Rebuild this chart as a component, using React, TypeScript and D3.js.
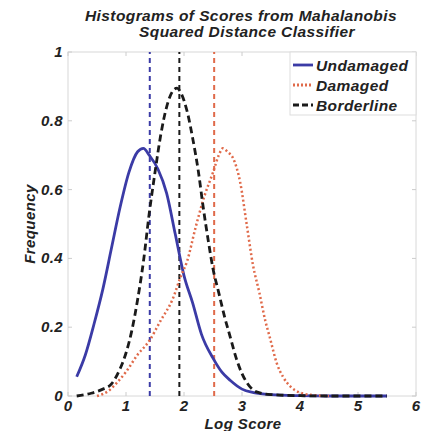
import React from "react";
import * as d3 from "d3";

// Log score grid and frequencies
const undamagedX = [0.15, 0.3, 0.45, 0.6, 0.75, 0.9, 1.05, 1.2, 1.3, 1.4, 1.55, 1.7, 1.85, 2.0, 2.15, 2.3, 2.5, 2.65, 2.8, 3.0, 3.2, 3.5, 4.0, 4.5, 5.0, 5.5];
const undamagedY = [0.056, 0.12, 0.21, 0.31, 0.43, 0.55, 0.65, 0.71, 0.72, 0.7, 0.66, 0.59, 0.47, 0.35, 0.27, 0.18, 0.11, 0.07, 0.045, 0.02, 0.01, 0.004, 0.001, 0, 0, 0];

const damagedX = [0.5, 0.7, 0.85, 1.0, 1.2, 1.4, 1.6, 1.8, 1.95, 2.05, 2.2, 2.35, 2.5, 2.6, 2.67, 2.75, 2.85, 2.97, 3.08, 3.19, 3.3, 3.4, 3.48, 3.6, 3.71, 3.85, 4.0, 4.2, 4.5];
const damagedY = [0.0, 0.015, 0.04, 0.07, 0.12, 0.16, 0.22, 0.28, 0.35, 0.39, 0.49, 0.58, 0.65, 0.7, 0.72, 0.71, 0.69, 0.62, 0.5, 0.38, 0.3, 0.22, 0.17, 0.095, 0.055, 0.025, 0.01, 0.003, 0];

const borderlineX = [0.15, 0.4, 0.6, 0.75, 0.9, 1.0, 1.1, 1.2, 1.3, 1.4, 1.5, 1.6, 1.7, 1.8, 1.88, 1.95, 2.05, 2.16, 2.25, 2.33, 2.42, 2.5, 2.6, 2.7, 2.8, 2.9, 3.0, 3.1, 3.25, 3.5, 4.0, 4.5, 5.0, 5.5];
const borderlineY = [0, 0.008, 0.02, 0.035, 0.08, 0.125, 0.19, 0.28, 0.39, 0.53, 0.65, 0.76, 0.84, 0.885, 0.895, 0.88, 0.83, 0.74, 0.65, 0.55, 0.45, 0.37, 0.3, 0.23, 0.17, 0.11, 0.065, 0.035, 0.012, 0.004, 0.001, 0, 0, 0];

// vertical threshold lines (log score)
const thresholds = [1.41, 1.92, 2.52];

const xTicks = [0, 1, 2, 3, 4, 5, 6];
const yTicks = [0, 0.2, 0.4, 0.6, 0.8, 1];
const legendLabels = ["Undamaged", "Damaged", "Borderline"];

const BLUE = "#3b3ba6";
const RED = "#e06a4a";
const BLACK = "#1a1a1a";

const font = "'Liberation Sans', Arial, sans-serif";

export default function App() {
  const width = 424;
  const height = 431;
  const margin = { top: 52, right: 8, bottom: 35, left: 68 };

  const x = d3.scaleLinear().domain([0, 6]).range([margin.left, width - margin.right]);
  const y = d3.scaleLinear().domain([0, 1]).range([height - margin.bottom, margin.top]);

  const line = d3
    .line<[number, number]>()
    .x((d) => x(d[0]))
    .y((d) => y(d[1]))
    .curve(d3.curveMonotoneX);

  const zip = (xs: number[], ys: number[]) => xs.map((v, i) => [v, ys[i]] as [number, number]);

  const series = [
    { pts: zip(undamagedX, undamagedY), color: BLUE, dash: "none" },
    { pts: zip(damagedX, damagedY), color: RED, dash: "2,2.5" },
    { pts: zip(borderlineX, borderlineY), color: BLACK, dash: "7,4" },
  ];
  const vColors = [BLUE, BLACK, RED];

  const lx = 290;
  const ly = 52;
  const txt = { fontWeight: "bold", fontStyle: "italic", fill: "#222", letterSpacing: 0.4 } as const;

  return (
    <svg
      width={width}
      height={height}
      style={{ position: "absolute", left: 0, top: 0, background: "#fff" }}
      fontFamily={font}
    >
      {/* title */}
      <text x={241} y={21} textAnchor="middle" fontSize={15.5} {...txt}>
        Histograms of Scores from Mahalanobis
      </text>
      <text x={247} y={37} textAnchor="middle" fontSize={15.5} {...txt}>
        Squared Distance Classifier
      </text>

      {/* frame */}
      <rect
        x={x(0)}
        y={y(1)}
        width={x(6) - x(0)}
        height={y(0) - y(1)}
        fill="none"
        stroke="#d8d8d8"
        strokeWidth={1}
      />
      {xTicks.map((t) => (
        <g key={"xt" + t}>
          <line x1={x(t)} x2={x(t)} y1={y(0)} y2={y(0) - 4} stroke="#ccc" />
          <line x1={x(t)} x2={x(t)} y1={y(1)} y2={y(1) + 4} stroke="#ccc" />
          <text x={x(t)} y={y(0) + 15} textAnchor="middle" fontSize={15} {...txt}>
            {t}
          </text>
        </g>
      ))}
      {yTicks.map((t) => (
        <g key={"yt" + t}>
          <line x1={x(0)} x2={x(0) + 4} y1={y(t)} y2={y(t)} stroke="#ccc" />
          <line x1={x(6)} x2={x(6) - 4} y1={y(t)} y2={y(t)} stroke="#ccc" />
          <text x={x(0) - 5} y={y(t) + 5} textAnchor="end" fontSize={15} {...txt}>
            {String(t)}
          </text>
        </g>
      ))}

      {/* threshold lines */}
      {thresholds.map((t, i) => (
        <line
          key={"v" + i}
          x1={x(t)}
          x2={x(t)}
          y1={y(0)}
          y2={y(1)}
          stroke={vColors[i]}
          strokeWidth={2}
          strokeDasharray="5,4"
        />
      ))}

      {/* curves */}
      {series.map((s, i) => (
        <path
          key={"s" + i}
          d={line(s.pts) || ""}
          fill="none"
          stroke={s.color}
          strokeWidth={i === 1 ? 2.5 : 2.8}
          strokeDasharray={s.dash}
        />
      ))}

      {/* legend */}
      <rect x={lx} y={ly} width={x(6) - lx} height={63} fill="#fff" stroke="#ddd" />
      {legendLabels.map((lab, i) => (
        <g key={lab} transform={`translate(${lx},${ly + 13 + i * 20})`}>
          <line
            x1={3}
            x2={23}
            y1={0}
            y2={0}
            stroke={series[i].color}
            strokeWidth={2.8}
            strokeDasharray={series[i].dash === "none" ? "none" : series[i].dash === "7,4" ? "6,3" : "2,2"}
          />
          <text x={26} y={5.5} fontSize={15.5} {...txt}>
            {lab}
          </text>
        </g>
      ))}

      {/* axis labels */}
      <text x={243} y={428.5} textAnchor="middle" fontSize={15} {...txt}>
        Log Score
      </text>
      <text
        transform={`translate(35,${(y(0) + y(1)) / 2}) rotate(-90)`}
        textAnchor="middle"
        fontSize={15}
        {...txt}
      >
        Frequency
      </text>
    </svg>
  );
}
